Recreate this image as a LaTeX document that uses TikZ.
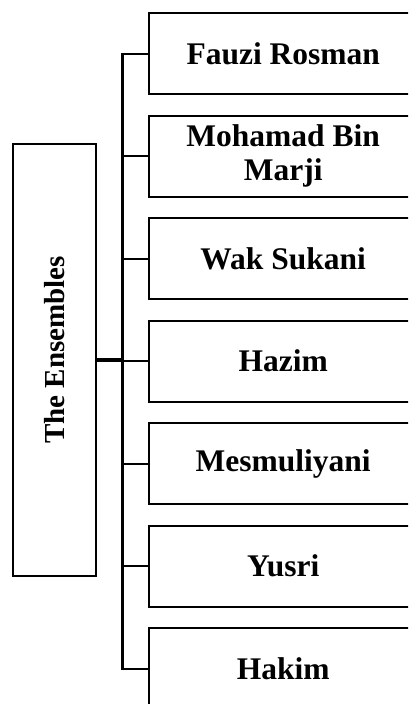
\documentclass[tikz,border=0pt]{standalone}
\usepackage{fontspec}
\setmainfont{Liberation Serif}
\begin{document}
\begin{tikzpicture}[x=1pt,y=-1pt,
  member/.style={draw,line width=2.4pt,minimum width=268pt,minimum height=81pt,inner sep=0pt,
    font=\bfseries\fontsize{31.5}{34}\selectfont,align=center,anchor=north west},
  mainbox/.style={draw,line width=2.4pt,minimum width=83pt,minimum height=432pt,inner sep=0pt},
  link/.style={line width=2.2pt},
  mainlink/.style={line width=3.2pt}]
\useasboundingbox (0,0) rectangle (408,704);
\clip (0,0) rectangle (408,704);
\node[mainbox] (main) at (54.5,360) {};
\node[rotate=90,font=\bfseries\fontsize{29}{34}\selectfont] (mt) at (55,350) {The Ensembles};
\node[member] (m1) at (148,12) {Fauzi Rosman};
\node[member] (m2) at (148,114.5) {Mohamad Bin\\Marji};
\node[member] (m3) at (148,217) {Wak Sukani};
\node[member] (m4) at (148,319.5) {Hazim};
\node[member] (m5) at (148,422) {Mesmuliyani};
\node[member] (m6) at (148,524.5) {Yusri};
\node[member] (m7) at (148,627) {Hakim};
\coordinate (trunk) at (122.5,360);
\draw[mainlink] (main.east) -- (trunk);
\draw[link] (m1.west) -| (trunk) |- (m7.west);
\foreach \i in {2,...,6} \draw[link] (m\i.west) -- (122.5,0 |- m\i.west);
\end{tikzpicture}
\end{document}
